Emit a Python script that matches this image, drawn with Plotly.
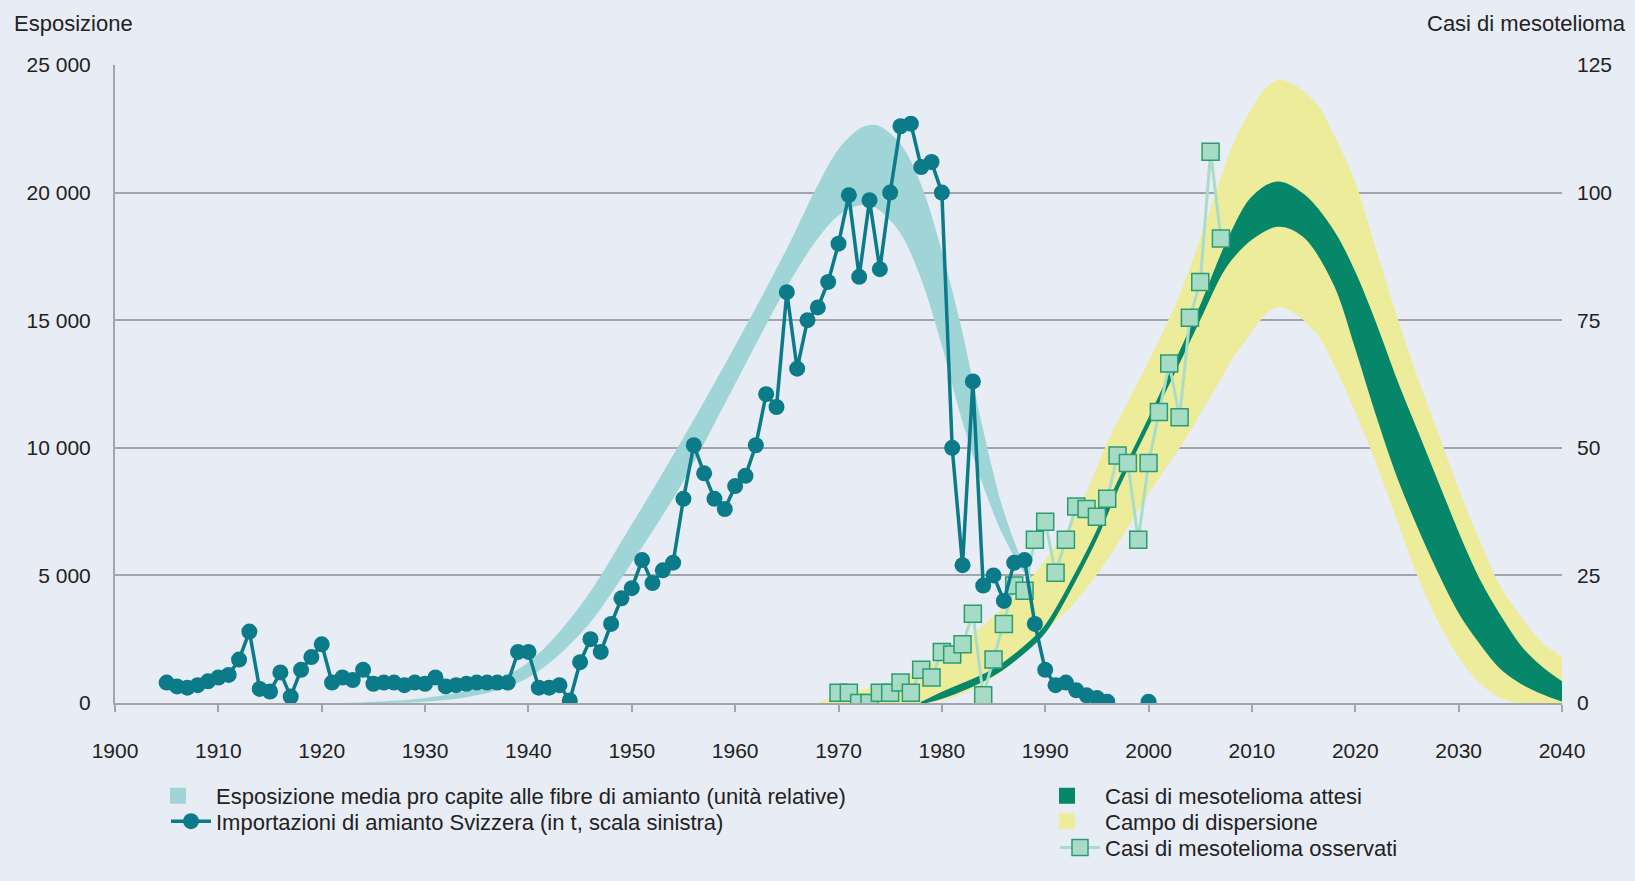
import plotly.graph_objects as go

# ---------------- data ----------------
import_years = list(range(1905, 2001))
import_tonnes = [
    800, 650, 600, 700, 850, 1000, 1100, 1700, 2800, 550,        # 1905-1914
    450, 1200, 250, 1300, 1800, 2300, 800, 1000, 900, 1300,       # 1915-1924
    750, 800, 800, 700, 800, 750, 1000, 650, 700, 750,            # 1925-1934
    800, 800, 800, 800, 2000, 2000, 600, 600, 700, 100,           # 1935-1944
    1600, 2500, 2000, 3100, 4100, 4500, 5600, 4700, 5200, 5500,   # 1945-1954
    8000, 10100, 9000, 8000, 7600, 8500, 8900, 10100, 12100, 11600,  # 1955-1964
    16100, 13100, 15000, 15500, 16500, 18000, 19900, 16700, 19700, 17000,  # 1965-1974
    20000, 22600, 22700, 21000, 21200, 20000, 10000, 5400, 12600, 4600,    # 1975-1984
    5000, 4000, 5500, 5600, 3100, 1300, 700, 800, 500, 300,       # 1985-1994
    200, 50, None, None, None, 50,                                # 1995-2000
]

exposure_years = [1922, 1925, 1930, 1935, 1940, 1945, 1950, 1955, 1960, 1965, 1968,
                  1970, 1972, 1973, 1974, 1976, 1978, 1980, 1982, 1984, 1986, 1988, 1989]
exposure_upper = [0, 50, 200, 600, 1600, 3800, 7000, 10400, 14000, 17800, 20300,
                  21700, 22500, 22650, 22600, 21900, 20300, 17700, 14500, 10700, 7500, 5400, 4800]
exposure_lower = [0, 0, 50, 300, 1000, 2700, 5500, 8700, 12500, 16300, 18200,
                  19100, 19500, 19500, 19300, 18400, 16600, 14000, 11000, 8500, 6500, 5100, 4800]

range_years = [1968, 1970, 1975, 1980, 1985, 1988, 1990, 1993, 1996, 2000, 2003, 2006, 2009,
               2012.5, 2016, 2018, 2020, 2022, 2024, 2026, 2028, 2030, 2032, 2034, 2036, 2038, 2040]
range_upper = [0, 1.5, 4, 9, 17, 23, 28, 37, 51, 67, 80, 97, 113,
               122, 118, 111, 102, 89, 76, 64, 53, 42, 32, 23, 17, 12, 9]
range_lower = [0, 0, 0, 0.5, 5, 10, 14, 20, 28, 41, 50, 60, 70,
               77.5, 73, 66, 57, 47, 36, 25, 16, 9, 4, 1, 0, 0, 0]

expected_years = [1978, 1980, 1985, 1988, 1990, 1993, 1995, 1997, 2000, 2003, 2005, 2007, 2008,
                  2010, 2012.5, 2015, 2018, 2020, 2022, 2024, 2026, 2028, 2030, 2032, 2034,
                  2036, 2038, 2040]
expected_upper = [0, 2, 6.5, 11, 15, 25.5, 33.5, 43, 55.5, 68.5, 77.5, 87.5, 92,
                  99, 102, 99.5, 92, 84, 74, 63, 53, 43, 33, 24, 17, 11, 7, 4]
expected_lower = [0, 1, 5.5, 10, 14, 24.5, 32.5, 42, 54.5, 67, 75.5, 84, 87,
                  91, 93.5, 91.5, 82, 70, 57, 45, 35, 26, 18, 12, 7, 4, 2, 0.5]

observed_years = list(range(1970, 2008))
observed_cases = [2, 2, 0, 0, 2, 2, 4, 2, 6.5, 5,
                  10, 9.5, 11.5, 17.5, 1.5, 8.5, 15.5, 23, 22, 32,
                  35.5, 25.5, 32, 38.5, 38, 36.5, 40, 48.5, 47, 32,
                  47, 57, 66.5, 56, 75.5, 82.5, 108, 91]

x_ticks = list(range(1900, 2041, 10))
left_ticks = [0, 5000, 10000, 15000, 20000, 25000]
right_ticks = [0, 25, 50, 75, 100, 125]

# ---------------- styles ----------------
FONT = "Liberation Sans, Arial, sans-serif"
BG = "#e8ecf4"
GRID = "#a3a5ad"
C_EXPO = "#a0d5d7"
C_IMPORT = "#0b7b89"
C_RANGE = "#ecec9a"
C_EXPECT = "#07876a"
C_OBS_FILL = "#a6dcc6"
C_OBS_EDGE = "#2a9c72"
C_OBS_LINE = "#a9dcc9"

N_EXPO = "Esposizione media pro capite alle fibre di amianto (unità relative)"
N_IMP = "Importazioni di amianto Svizzera (in t, scala sinistra)"
N_EXP = "Casi di mesotelioma attesi"
N_RNG = "Campo di dispersione"
N_OBS = "Casi di mesotelioma osservati"

fig = go.Figure()

# exposure band (left axis)
fig.add_trace(go.Scatter(x=exposure_years, y=exposure_lower, mode="lines",
                         line=dict(width=0, color=C_EXPO, shape="spline"),
                         showlegend=False, hoverinfo="skip", yaxis="y"))
fig.add_trace(go.Scatter(x=exposure_years, y=exposure_upper, mode="lines",
                         line=dict(width=0, color=C_EXPO, shape="spline"),
                         fill="tonexty", fillcolor=C_EXPO, name=N_EXPO,
                         showlegend=False, yaxis="y"))
fig.add_trace(go.Scatter(x=[None], y=[None], mode="markers",
                         marker=dict(symbol="square", size=17, color=C_EXPO),
                         name=N_EXPO, legend="legend", yaxis="y"))

# imports (drawn on top via overlaying axis y3)
fig.add_trace(go.Scatter(x=import_years, y=import_tonnes, mode="lines+markers",
                         connectgaps=False,
                         line=dict(width=3.5, color=C_IMPORT),
                         marker=dict(symbol="circle", size=16, color=C_IMPORT),
                         name=N_IMP, legend="legend2", yaxis="y3"))

# mesothelioma range (right axis)
fig.add_trace(go.Scatter(x=range_years, y=range_lower, mode="lines",
                         line=dict(width=0, color=C_RANGE, shape="spline"),
                         showlegend=False, hoverinfo="skip", yaxis="y2"))
fig.add_trace(go.Scatter(x=range_years, y=range_upper, mode="lines",
                         line=dict(width=0, color=C_RANGE, shape="spline"),
                         fill="tonexty", fillcolor=C_RANGE, name=N_RNG,
                         showlegend=False, yaxis="y2"))

# expected cases band
fig.add_trace(go.Scatter(x=expected_years, y=expected_lower, mode="lines",
                         line=dict(width=2, color=C_EXPECT, shape="spline"),
                         showlegend=False, hoverinfo="skip", yaxis="y2"))
fig.add_trace(go.Scatter(x=expected_years, y=expected_upper, mode="lines",
                         line=dict(width=2, color=C_EXPECT, shape="spline"),
                         fill="tonexty", fillcolor=C_EXPECT, name=N_EXP,
                         showlegend=False, yaxis="y2"))

# observed cases
fig.add_trace(go.Scatter(x=observed_years, y=observed_cases, mode="lines+markers",
                         line=dict(width=3, color=C_OBS_LINE),
                         marker=dict(symbol="square", size=17, color=C_OBS_FILL,
                                     line=dict(width=1.5, color=C_OBS_EDGE)),
                         name=N_OBS, legend="legend5", yaxis="y2"))

# legend swatches for the bands
fig.add_trace(go.Scatter(x=[None], y=[None], mode="markers",
                         marker=dict(symbol="square", size=17, color=C_EXPECT),
                         name=N_EXP, legend="legend3", yaxis="y2"))
fig.add_trace(go.Scatter(x=[None], y=[None], mode="markers",
                         marker=dict(symbol="square", size=17, color=C_RANGE),
                         name=N_RNG, legend="legend4", yaxis="y2"))

PLOT_L, PLOT_R, PLOT_T, PLOT_B = 115, 73, 65, 164
W, H = 1635, 881
pw = W - PLOT_L - PLOT_R
ph = H - PLOT_T - PLOT_B


def px_x(px):
    return (px - PLOT_L) / pw


def px_y(py):
    return (H - PLOT_B - py) / ph


def leg(text_x, ypx, item_w):
    # text starts at legend-left + item_w + 10
    return dict(x=px_x(text_x - item_w - 10), y=px_y(ypx), xanchor="left",
                yanchor="middle", bgcolor="rgba(0,0,0,0)", font=dict(size=22),
                itemwidth=item_w, traceorder="normal")


fig.update_layout(
    width=W, height=H,
    margin=dict(l=PLOT_L, r=PLOT_R, t=PLOT_T, b=PLOT_B),
    paper_bgcolor=BG, plot_bgcolor=BG,
    font=dict(family=FONT, size=21, color="#222222"),
    separators=", ",
    xaxis=dict(range=[1900, 2040], tickvals=x_ticks, showgrid=False,
               showline=True, linecolor=GRID, linewidth=2,
               ticks="outside", ticklen=7, tickwidth=2, tickcolor=GRID,
               ticklabelstandoff=21, zeroline=False),
    yaxis=dict(range=[0, 25000], tickvals=left_ticks, tickformat=",d",
               showgrid=True, gridcolor=GRID, gridwidth=2,
               showline=True, linecolor=GRID, linewidth=2, zeroline=False,
               ticks="", ticklabelstandoff=18),
    yaxis2=dict(range=[0, 125], tickvals=right_ticks, overlaying="y", side="right",
                showgrid=False, zeroline=False, showline=False, ticks="",
                ticklabelstandoff=14),
    yaxis3=dict(range=[0, 25000], overlaying="y", visible=False),
    legend=leg(216, 812, 66),
    legend2=leg(216, 838, 40),
    legend3=leg(1105, 812, 66),
    legend4=leg(1105, 838, 66),
    legend5=leg(1105, 865, 40),
    annotations=[
        dict(text="Esposizione", xref="paper", yref="paper", x=px_x(12), y=px_y(23),
             xanchor="left", yanchor="middle", showarrow=False, font=dict(size=22)),
        dict(text="Casi di mesotelioma", xref="paper", yref="paper", x=px_x(1628),
             y=px_y(23), xanchor="right", yanchor="middle", showarrow=False,
             font=dict(size=22)),
    ],
)

fig.write_html("out.html",
               config={"displayModeBar": False},
               post_script="document.body.style.margin='0px';"
                           "document.body.style.overflow='hidden';")
